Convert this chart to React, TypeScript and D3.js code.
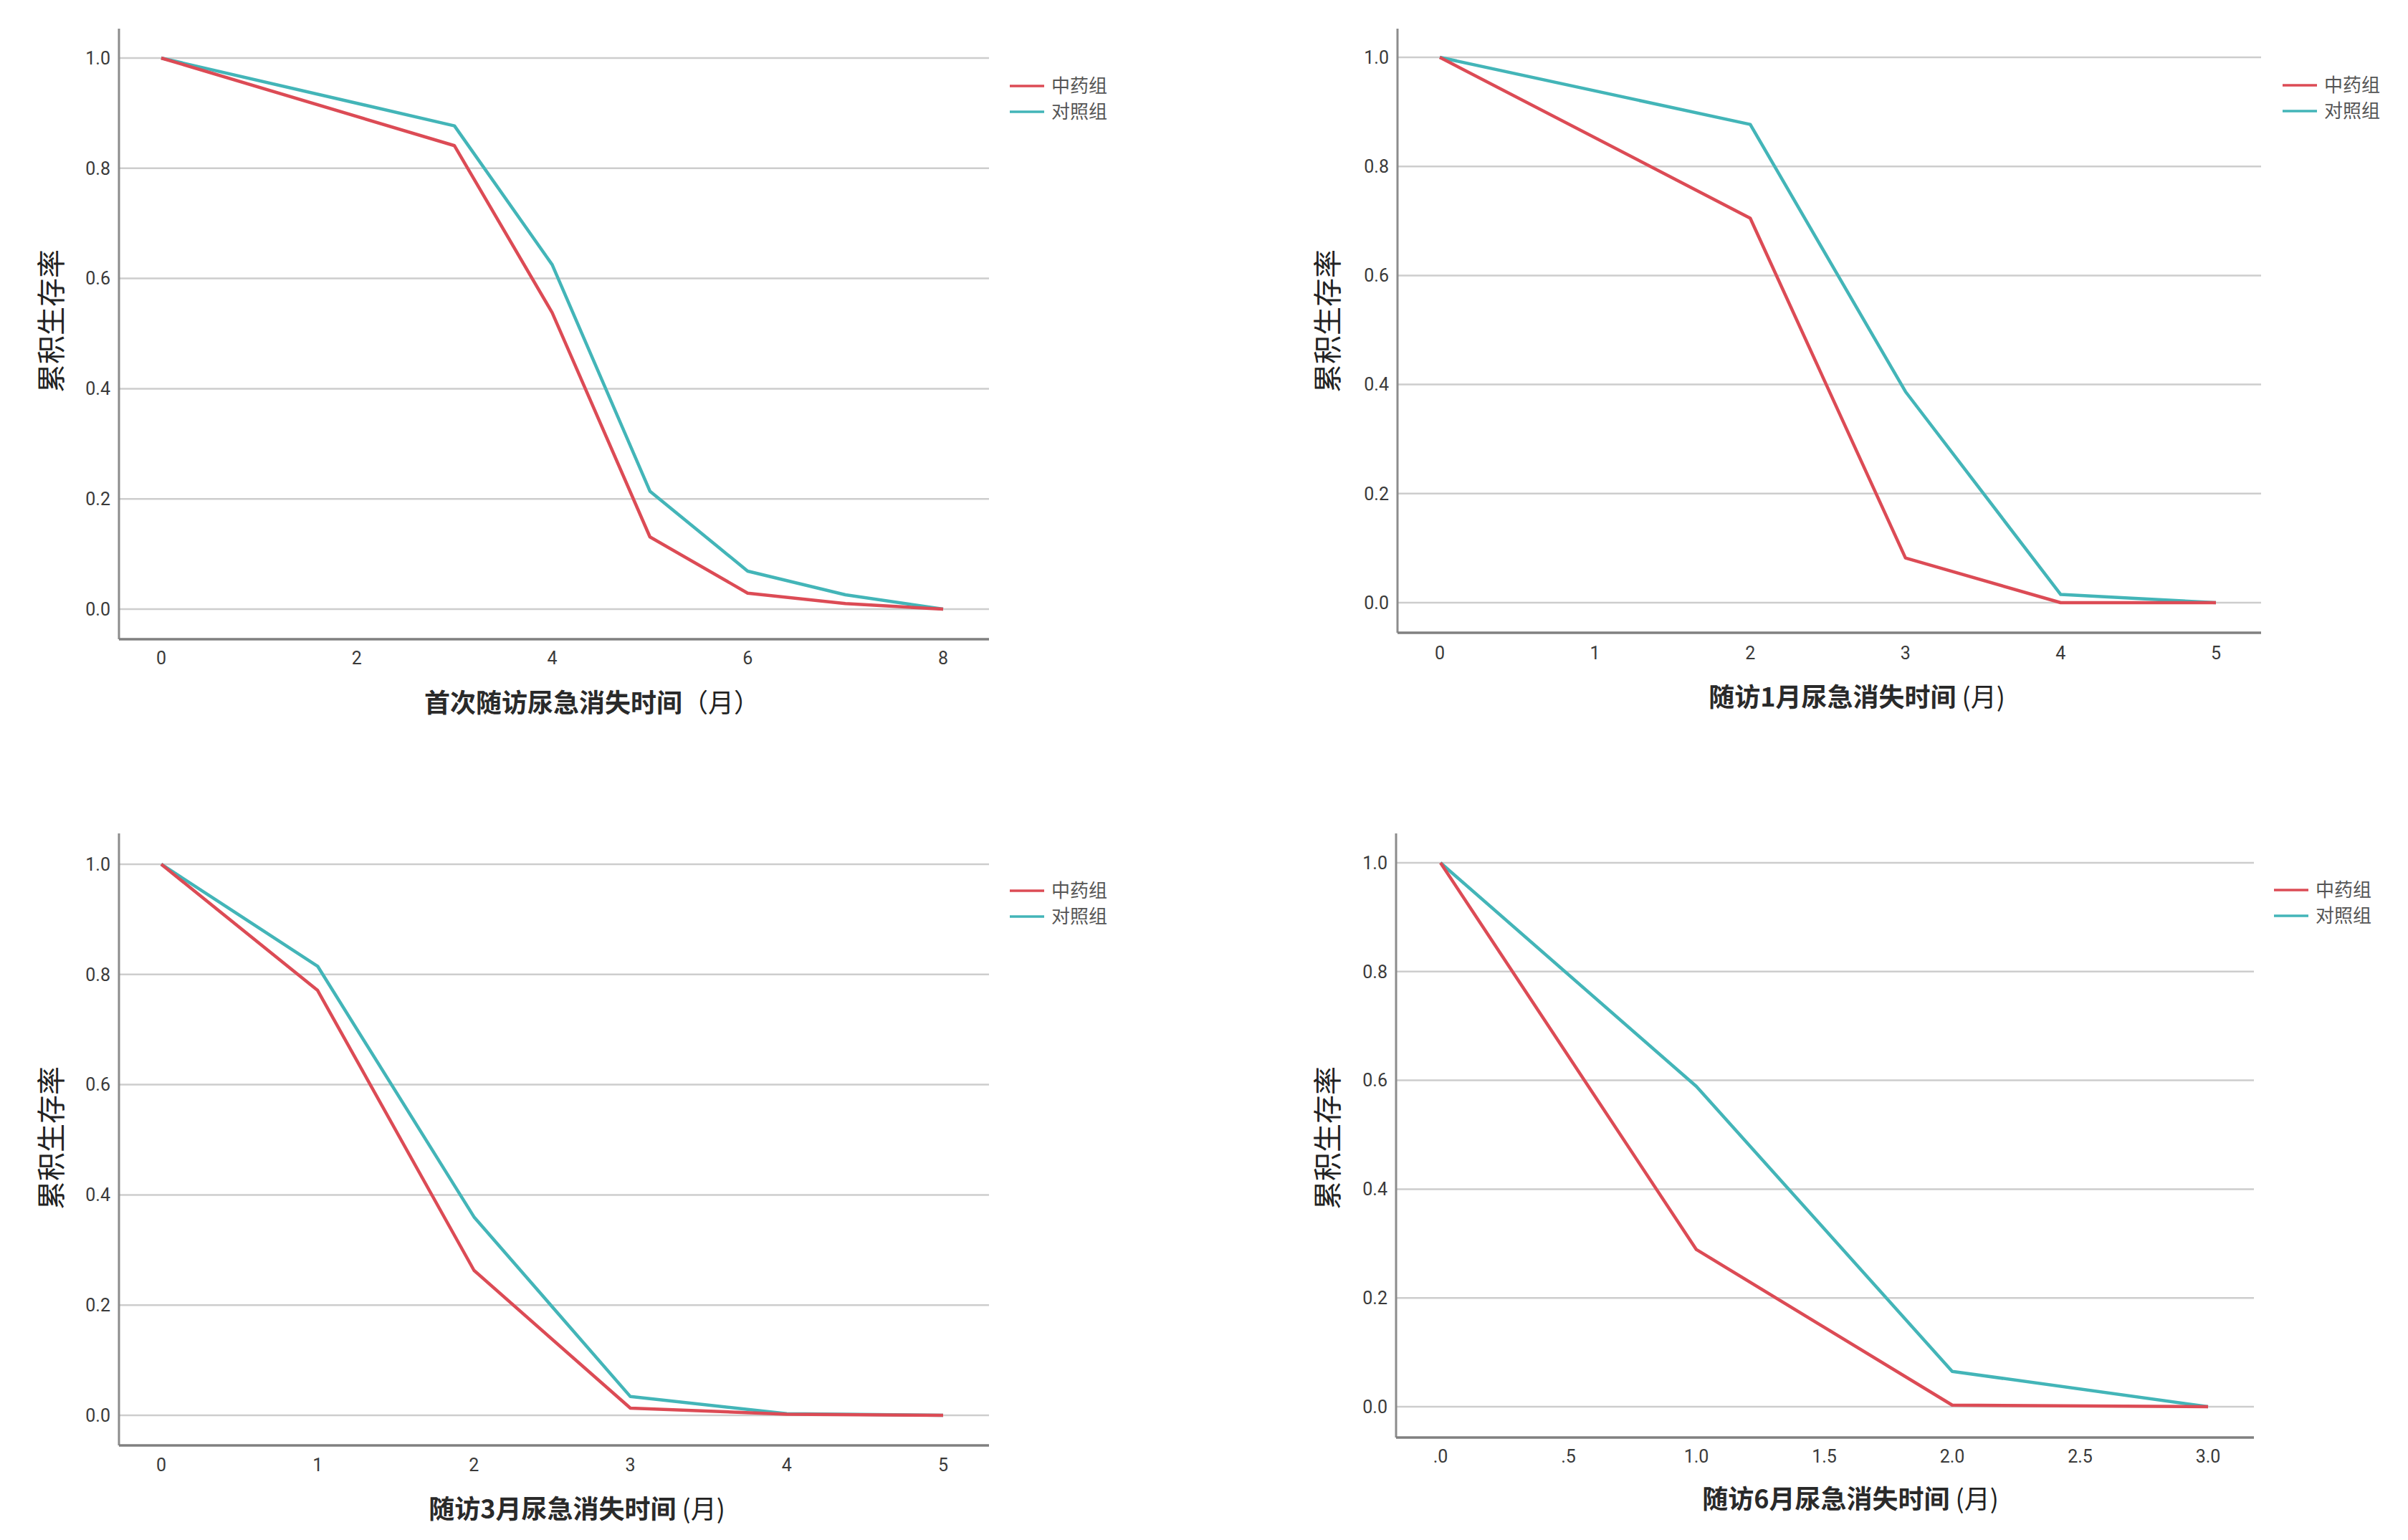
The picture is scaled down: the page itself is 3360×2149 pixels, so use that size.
import * as d3 from "d3";

// ---- data ----
const GROUPS = ["中药组", "对照组"];
const GROUP_COLORS = ["#dc4b55", "#43b5b8"];

const TIME_FIRST = [0, 3, 4, 5, 6, 7, 8];
const CHM_FIRST = [1.0, 0.841, 0.538, 0.131, 0.029, 0.01, 0.0];
const CTRL_FIRST = [1.0, 0.877, 0.625, 0.214, 0.069, 0.026, 0.0];

const TIME_M1 = [0, 2, 3, 4, 5];
const CHM_M1 = [1.0, 0.705, 0.082, 0.0, 0.0];
const CTRL_M1 = [1.0, 0.877, 0.387, 0.015, 0.0];

const TIME_M3 = [0, 1, 2, 3, 4, 5];
const CHM_M3 = [1.0, 0.771, 0.263, 0.013, 0.002, 0.0];
const CTRL_M3 = [1.0, 0.815, 0.36, 0.034, 0.003, 0.0];

const TIME_M6 = [0, 1, 2, 3];
const CHM_M6 = [1.0, 0.289, 0.003, 0.0];
const CTRL_M6 = [1.0, 0.589, 0.065, 0.0];

const Y_TICKS = [0, 0.2, 0.4, 0.6, 0.8, 1.0];
const X_TICKS_FIRST = [0, 2, 4, 6, 8];
const X_TICKS_INT5 = [0, 1, 2, 3, 4, 5];
const X_TICKS_M6 = [0, 0.5, 1, 1.5, 2, 2.5, 3];
const X_TICK_LABELS_M6 = [".0", ".5", "1.0", "1.5", "2.0", "2.5", "3.0"];

const Y_LABEL = "累积生存率";

type Panel = {
  title: string;
  unit: string;
  time: number[];
  series: number[][];
  xDomain: [number, number];
  xTicks: number[];
  xTickLabels?: string[];
  // layout in page pixels
  axisX: number;
  top: number;
  y1: number;
  y0: number;
  axisY: number;
  right: number;
  x0: number;
  x1: number;
  tickLabelY: number;
  titleX: number;
  titleY: number;
  legendX: number;
  legendY: number;
  yLabelX: number;
  yLabelY: number;
};

const PANELS: Panel[] = [
  {
    title: "首次随访尿急消失时间",
    unit: "（月）",
    time: TIME_FIRST,
    series: [CHM_FIRST, CTRL_FIRST],
    xDomain: [0, 8],
    xTicks: X_TICKS_FIRST,
    axisX: 166, top: 40, y1: 81, y0: 850, axisY: 892, right: 1380,
    x0: 225, x1: 1316, tickLabelY: 918,
    titleX: 826, titleY: 981,
    legendX: 1409, legendY: 120,
    yLabelX: 72, yLabelY: 448,
  },
  {
    title: "随访1月尿急消失时间",
    unit: " (月)",
    time: TIME_M1,
    series: [CHM_M1, CTRL_M1],
    xDomain: [0, 5],
    xTicks: X_TICKS_INT5,
    axisX: 1950, top: 40, y1: 80, y0: 841, axisY: 883, right: 3155,
    x0: 2009, x1: 3092, tickLabelY: 911,
    titleX: 2591, titleY: 973,
    legendX: 3185, legendY: 119,
    yLabelX: 1853, yLabelY: 448,
  },
  {
    title: "随访3月尿急消失时间",
    unit: " (月)",
    time: TIME_M3,
    series: [CHM_M3, CTRL_M3],
    xDomain: [0, 5],
    xTicks: X_TICKS_INT5,
    axisX: 166, top: 1163, y1: 1206, y0: 1975, axisY: 2017, right: 1380,
    x0: 225, x1: 1316, tickLabelY: 2044,
    titleX: 805, titleY: 2106,
    legendX: 1409, legendY: 1243,
    yLabelX: 72, yLabelY: 1588,
  },
  {
    title: "随访6月尿急消失时间",
    unit: " (月)",
    time: TIME_M6,
    series: [CHM_M6, CTRL_M6],
    xDomain: [0, 3],
    xTicks: X_TICKS_M6,
    xTickLabels: X_TICK_LABELS_M6,
    axisX: 1948, top: 1163, y1: 1204, y0: 1963, axisY: 2006, right: 3145,
    x0: 2010, x1: 3081, tickLabelY: 2032,
    titleX: 2582, titleY: 2092,
    legendX: 3173, legendY: 1242,
    yLabelX: 1853, yLabelY: 1588,
  },
];

const TICK_FONT = "'Liberation Sans Narrow', 'Roboto', 'DejaVu Sans Condensed', sans-serif";
const CJK_FONT = "'Noto Sans CJK SC', sans-serif";
const fmtY = d3.format(".1f");

function SurvivalPanel({ p }: { p: Panel }) {
  const x = d3.scaleLinear().domain(p.xDomain).range([p.x0, p.x1]);
  const y = d3.scaleLinear().domain([0, 1]).range([p.y0, p.y1]);
  const line = d3
    .line<[number, number]>()
    .x((d) => x(d[0]))
    .y((d) => y(d[1]));

  return (
    <g>
      {/* gridlines */}
      {Y_TICKS.map((t) => (
        <line
          key={`g${t}`}
          x1={p.axisX}
          x2={p.right}
          y1={y(t)}
          y2={y(t)}
          stroke="#cdcdcd"
          strokeWidth={2.5}
        />
      ))}
      {/* axes */}
      <line x1={p.axisX} x2={p.axisX} y1={p.top} y2={p.axisY} stroke="#8c8c8c" strokeWidth={3} />
      <line x1={p.axisX} x2={p.right} y1={p.axisY} y2={p.axisY} stroke="#808080" strokeWidth={3.5} />

      {/* y tick labels */}
      {Y_TICKS.map((t) => (
        <text
          key={`y${t}`}
          x={p.axisX - 12}
          y={y(t)}
          dy="0.35em"
          textAnchor="end"
          fontFamily={TICK_FONT}
          fontSize={25}
          fill="#3a3a3a"
        >
          {fmtY(t)}
        </text>
      ))}
      {/* x tick labels */}
      {p.xTicks.map((t, i) => (
        <text
          key={`x${t}`}
          x={x(t)}
          y={p.tickLabelY}
          dy="0.35em"
          textAnchor="middle"
          fontFamily={TICK_FONT}
          fontSize={25}
          fill="#3a3a3a"
        >
          {p.xTickLabels ? p.xTickLabels[i] : String(t)}
        </text>
      ))}

      {/* survival lines, control drawn first so the red sits on top */}
      {[1, 0].map((gi) => (
        <path
          key={GROUPS[gi]}
          d={line(p.time.map((t, i) => [t, p.series[gi][i]] as [number, number])) ?? ""}
          fill="none"
          stroke={GROUP_COLORS[gi]}
          strokeWidth={4.5}
          strokeLinejoin="round"
        />
      ))}

      {/* legend */}
      {GROUPS.map((g, i) => (
        <g key={g} transform={`translate(${p.legendX}, ${p.legendY + i * 36})`}>
          <line x1={0} x2={48} y1={0} y2={0} stroke={GROUP_COLORS[i]} strokeWidth={3.5} />
          <text
            x={58}
            y={0}
            dy="0.36em"
            fontFamily={CJK_FONT}
            fontSize={26}
            fill="#555"
          >
            {g}
          </text>
        </g>
      ))}

      {/* axis titles */}
      <text
        x={p.titleX}
        y={p.titleY}
        dy="0.36em"
        textAnchor="middle"
        fontFamily={CJK_FONT}
        fontSize={36}
        fill="#2a2a2a"
      >
        <tspan fontWeight="bold">{p.title}</tspan>
        <tspan fontWeight="normal" fill="#222">{p.unit}</tspan>
      </text>
      <text
        transform={`translate(${p.yLabelX}, ${p.yLabelY}) rotate(-90)`}
        dy="0.36em"
        textAnchor="middle"
        fontFamily={CJK_FONT}
        fontSize={40}
        fill="#222"
      >
        {Y_LABEL}
      </text>
    </g>
  );
}

export default function App() {
  return (
    <svg
      width={3360}
      height={2149}
      style={{ position: "absolute", left: 0, top: 0, background: "#fff" }}
    >
      <rect width={3360} height={2149} fill="#fff" />
      {PANELS.map((p) => (
        <SurvivalPanel key={p.title} p={p} />
      ))}
    </svg>
  );
}
